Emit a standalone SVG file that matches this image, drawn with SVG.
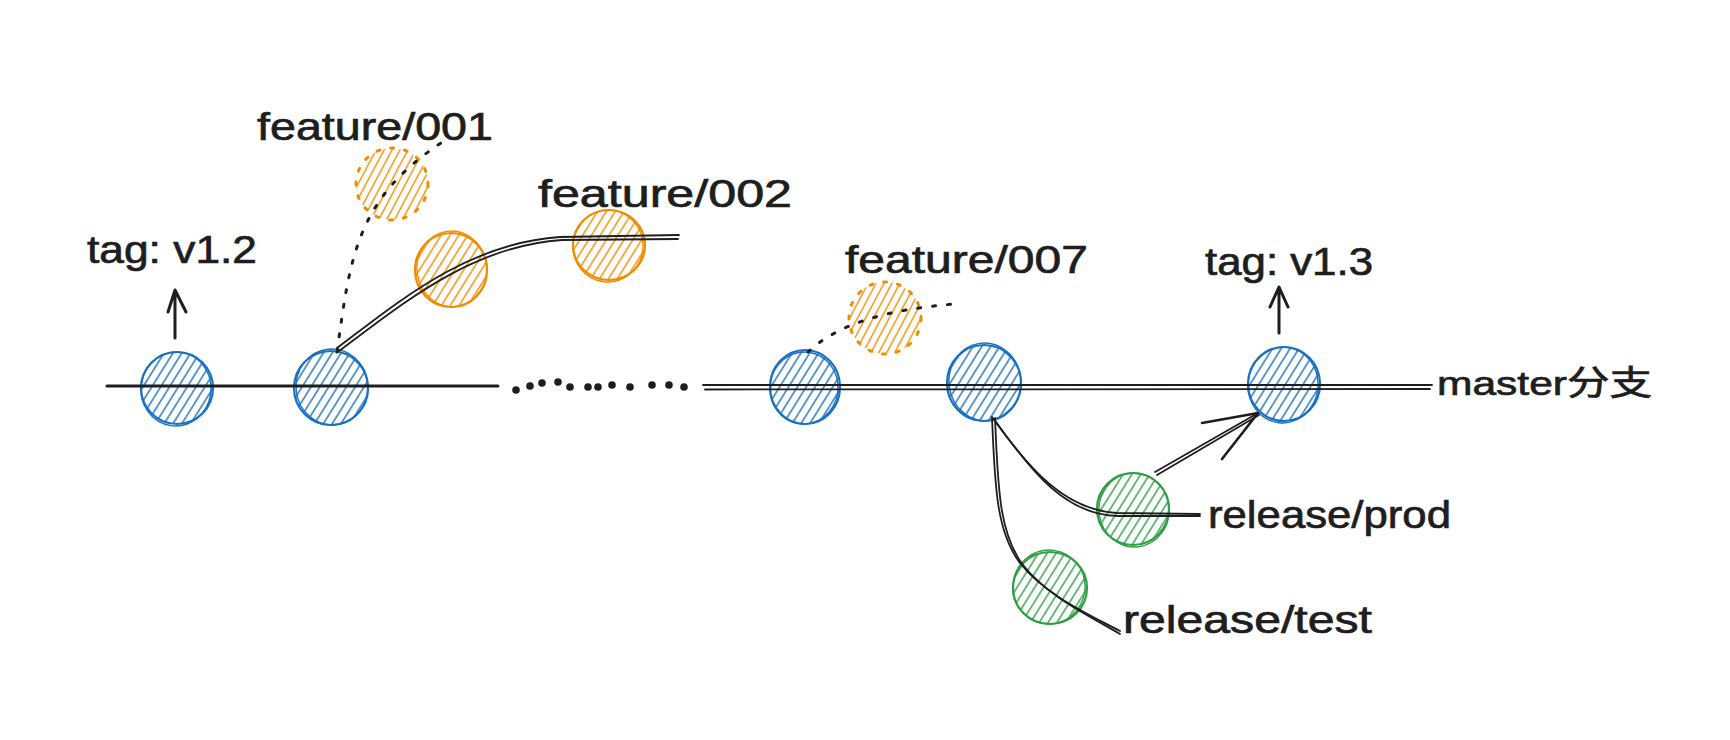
<svg xmlns="http://www.w3.org/2000/svg" width="1730" height="740" viewBox="0 0 1730 740">
<style>
.txt{font-family:"Liberation Sans","Noto Sans CJK SC",sans-serif;font-size:38px;fill:#1e1e1e;stroke:#1e1e1e;stroke-width:0.7;}
.ln{fill:none;stroke:#1e1e1e;stroke-linecap:round;stroke-linejoin:round;}
.thick{stroke-width:3;}
.dbl{stroke-width:1.8;}
.dot{fill:none;stroke:#1e1e1e;stroke-width:3;stroke-linecap:round;stroke-dasharray:3 12;}
.blue{fill:url(#hB);stroke:#1971c2;stroke-width:2.2;}
.blue2{fill:none;stroke:#1971c2;stroke-width:1.4;}
.orange{fill:url(#hO);stroke:#f08c00;stroke-width:2.2;}
.orange2{fill:none;stroke:#f08c00;stroke-width:1.4;}
.orangeD{fill:url(#hO2);stroke:#f08c00;stroke-width:3;stroke-linecap:round;stroke-dasharray:3 11;}
.green{fill:url(#hG);stroke:#2f9e44;stroke-width:2.2;}
.green2{fill:none;stroke:#2f9e44;stroke-width:1.4;}
.mdot{fill:#1e1e1e;}
</style>
<defs>
<pattern id="hB" patternUnits="userSpaceOnUse" width="7.5" height="7.5" patternTransform="rotate(-58)">
<line x1="0" y1="3.75" x2="7.5" y2="3.75" stroke="#1971c2" stroke-width="1.4"/>
</pattern>
<pattern id="hO" patternUnits="userSpaceOnUse" width="7.5" height="7.5" patternTransform="rotate(-58)">
<line x1="0" y1="3.75" x2="7.5" y2="3.75" stroke="#f08c00" stroke-width="1.4"/>
</pattern>
<pattern id="hO2" patternUnits="userSpaceOnUse" width="7" height="7" patternTransform="rotate(-62)">
<line x1="0" y1="3.5" x2="7" y2="3.5" stroke="#f08c00" stroke-width="1.4"/>
</pattern>
<pattern id="hG" patternUnits="userSpaceOnUse" width="7.5" height="7.5" patternTransform="rotate(-58)">
<line x1="0" y1="3.75" x2="7.5" y2="3.75" stroke="#2f9e44" stroke-width="1.4"/>
</pattern>
</defs>
<rect width="1730" height="740" fill="#ffffff"/>

<g id="node-c1">
<ellipse class="blue" cx="177" cy="388" rx="36" ry="36"/>
<ellipse class="blue2" cx="176" cy="389" rx="35" ry="37" transform="rotate(8 176 389)"/>
</g>
<g id="node-c2">
<ellipse class="blue" cx="331" cy="388" rx="37" ry="37"/>
<ellipse class="blue2" cx="332" cy="387" rx="36" ry="38" transform="rotate(-6 332 387)"/>
</g>
<g id="node-c3">
<ellipse class="blue" cx="805" cy="387" rx="35" ry="37"/>
<ellipse class="blue2" cx="804" cy="388" rx="34" ry="36" transform="rotate(7 804 388)"/>
</g>
<g id="node-c4">
<ellipse class="blue" cx="984" cy="383" rx="37" ry="38"/>
<ellipse class="blue2" cx="985" cy="382" rx="36" ry="39" transform="rotate(-8 985 382)"/>
</g>
<g id="node-c5">
<ellipse class="blue" cx="1284" cy="384" rx="36" ry="37"/>
<ellipse class="blue2" cx="1283" cy="385" rx="35" ry="38" transform="rotate(6 1283 385)"/>
</g>

<g id="node-f001">
<circle class="orangeD" cx="392" cy="184" r="36"/>
</g>
<g id="node-f002a">
<ellipse class="orange" cx="451" cy="270" rx="36" ry="37"/>
<ellipse class="orange2" cx="452" cy="269" rx="35" ry="38" transform="rotate(-8 452 269)"/>
</g>
<g id="node-f002b">
<ellipse class="orange" cx="609" cy="245" rx="36" ry="35"/>
<ellipse class="orange2" cx="608" cy="246" rx="35" ry="36" transform="rotate(7 608 246)"/>
</g>
<g id="node-f007">
<circle class="orangeD" cx="885" cy="318" r="36"/>
</g>

<g id="node-prod">
<ellipse class="green" cx="1133" cy="509" rx="36" ry="36"/>
<ellipse class="green2" cx="1134" cy="510" rx="35" ry="37" transform="rotate(-7 1134 510)"/>
</g>
<g id="node-test">
<ellipse class="green" cx="1050" cy="588" rx="37" ry="36"/>
<ellipse class="green2" cx="1049" cy="587" rx="36" ry="37" transform="rotate(8 1049 587)"/>
</g>

<g id="connectors">
<path class="ln thick" d="M107 386 L498 386"/>
<g id="ellipsis">
<circle class="mdot" cx="516" cy="390" r="3.8"/>
<circle class="mdot" cx="530" cy="386" r="3.8"/>
<circle class="mdot" cx="542" cy="383" r="3.8"/>
<circle class="mdot" cx="558" cy="382" r="3.8"/>
<circle class="mdot" cx="570" cy="387" r="3.8"/>
<circle class="mdot" cx="588" cy="387" r="3.8"/>
<circle class="mdot" cx="598" cy="387" r="3.8"/>
<circle class="mdot" cx="612" cy="385" r="3.8"/>
<circle class="mdot" cx="630" cy="387" r="3.8"/>
<circle class="mdot" cx="652" cy="385" r="3.8"/>
<circle class="mdot" cx="669" cy="385" r="3.8"/>
<circle class="mdot" cx="684" cy="387" r="3.8"/>
</g>
<path class="ln dbl" d="M703 385 L1432 385"/>
<path class="ln dbl" d="M705 389.5 L1430 389"/>
<path class="ln dbl" d="M337 348 C397 303 467 243 560 237 L679 235"/>
<path class="ln dbl" d="M339 351 C400 306 470 246 562 240 L678 239"/>
<path class="dot" d="M337 352 C350 260 355 200 441 143"/>
<path class="dot" d="M808 352 Q850 312 955 304"/>
<path class="ln thick" d="M175 338 L175 290 M168 312 L175 290 L186 312"/>
<path class="ln thick" d="M1279 333 L1279 287 M1270 307 L1279 287 L1288 307"/>
<path class="ln dbl" d="M992 417 C1030 470 1065 510 1117 513 L1200 514"/>
<path class="ln dbl" d="M994 419 C1032 473 1066 515 1118 516 L1200 516"/>
<path class="ln dbl" d="M992 418 C995 480 995 530 1020 563 C1045 595 1090 615 1120 631"/>
<path class="ln dbl" d="M995 418 C998 482 998 532 1023 565 C1048 597 1092 617 1120 634"/>
<path class="ln dbl" d="M1155 472 L1258 413"/>
<path class="ln dbl" d="M1157 475 L1259 415"/>
<path class="ln" style="stroke-width:2.6" d="M1202 423 L1258 413 L1222 459"/>
</g>

<g id="labels">
<text class="txt" x="257" y="140" textLength="236" lengthAdjust="spacingAndGlyphs">feature/001</text>
<text class="txt" x="538" y="207" textLength="254" lengthAdjust="spacingAndGlyphs">feature/002</text>
<text class="txt" x="845" y="273" textLength="243" lengthAdjust="spacingAndGlyphs">feature/007</text>
<text class="txt" x="87" y="263" textLength="170" lengthAdjust="spacingAndGlyphs">tag: v1.2</text>
<text class="txt" x="1205" y="275" textLength="168" lengthAdjust="spacingAndGlyphs">tag: v1.3</text>
<text class="txt" x="1437" y="395" textLength="215" lengthAdjust="spacingAndGlyphs" style="font-size:34px">master分支</text>
<text class="txt" x="1208" y="528" textLength="243" lengthAdjust="spacingAndGlyphs">release/prod</text>
<text class="txt" x="1123" y="633" textLength="249" lengthAdjust="spacingAndGlyphs">release/test</text>
</g>
</svg>
